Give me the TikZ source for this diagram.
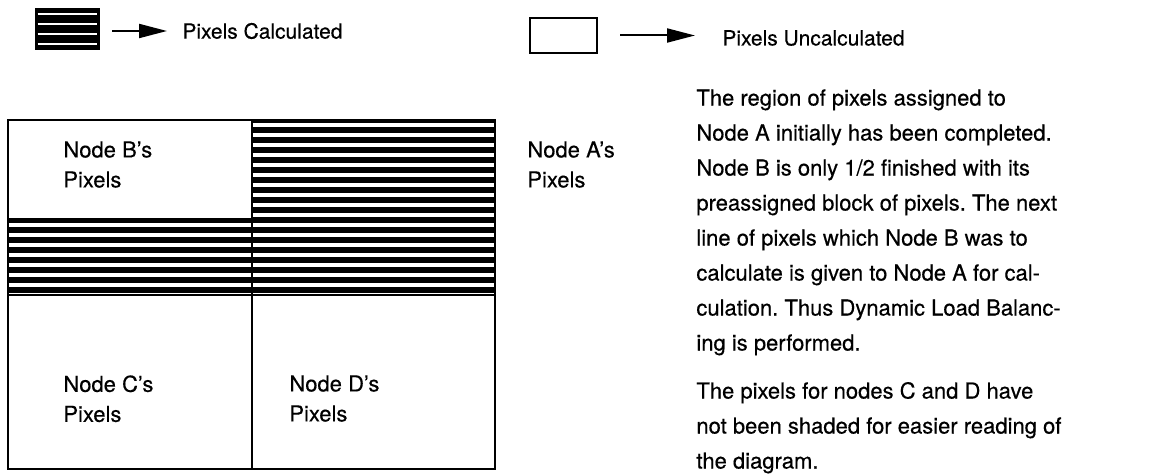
\documentclass[tikz,border=0pt]{standalone}
\usepackage{fontspec}
\setmainfont{TeX Gyre Heros}[FakeBold=0.4]
\frenchspacing
\usetikzlibrary{arrows.meta, positioning}

\tikzset{
  keyText/.style={font=\fontsize{10.5}{12}\selectfont, inner sep=0pt, anchor=west},
  regionLabel/.style={font=\fontsize{11}{15}\selectfont, align=left, inner sep=0pt, anchor=north west},
  noteText/.style={font=\fontsize{11}{17.5}\selectfont, align=left, inner sep=0pt, anchor=north west},
  keyArrow/.style={line width=1pt, -{Triangle[length=14pt,width=7pt]}},
  calcStripe/.style={line width=3pt},
  gridLine/.style={line width=1pt}
}

\begin{document}
\begin{tikzpicture}[x=0.5pt, y=-0.5pt]
  \useasboundingbox (0,0) rectangle (1150,475);
  \node[fill=black, minimum width=32.5pt, minimum height=21pt, inner sep=0pt] (calcKey) at (67.5,29) {};
  \foreach \k in {-7.5,-2.5,2.5,7.5}
    \draw[white, line width=1.3pt] ([xshift=1.5pt,yshift=\k pt]calcKey.west) -- ([xshift=-1.5pt,yshift=\k pt]calcKey.east);
  \node[keyText] (calcText) at (182,31) {Pixels Calculated};
  \draw[keyArrow, shorten <=6pt, shorten >=7.5pt] (calcKey.east |- calcText.west) -- (calcText.west);

  \node[draw, line width=1pt, minimum width=33.5pt, minimum height=17.5pt, inner sep=0pt] (uncalcKey) at (563.5,35.5) {};
  \node[keyText] (uncalcText) at (722,38) {Pixels Uncalculated};
  \draw[keyArrow, shorten <=11pt, shorten >=13.5pt] (uncalcKey.east) -- (uncalcKey.east -| uncalcText.west);

  \begin{scope}
    \clip (252,120) rectangle (495,295) (8,219) rectangle (252,295);
    \foreach \k in {0,...,17}
      \draw[calcStripe] (8,120+10*\k) -- (495,120+10*\k);
  \end{scope}
  \draw[gridLine] (8,120) rectangle (495,469);
  \draw[gridLine] (252,120) -- (252,469);
  \draw[gridLine] (8,219) -- (252,219);
  \draw[gridLine] (8,295) -- (495,295);

  \node[regionLabel] (labelB) at (63,141) {Node B’s\\Pixels};
  \node[regionLabel] (labelA) at (527,141) {Node A’s\\Pixels};
  \node[regionLabel] (labelC) at (63,375) {Node C’s\\Pixels};
  \node[regionLabel] (labelD) at (289,375) {Node D’s\\Pixels};

  \node[noteText] (noteBalance) at (696,89) {The region of pixels assigned to\\
    Node A initially has been completed.\\
    Node B is only 1/2 finished with its\\
    preassigned block of pixels. The next\\
    line of pixels which Node B was to\\
    calculate is given to Node A for cal-\\
    culation. Thus Dynamic Load Balanc-\\
    ing is performed.};
  \node[noteText, below=13pt of noteBalance.south west, anchor=north west] (noteShading) {The pixels for nodes C and D have\\
    not been shaded for easier reading of\\
    the diagram.};
\end{tikzpicture}
\end{document}
